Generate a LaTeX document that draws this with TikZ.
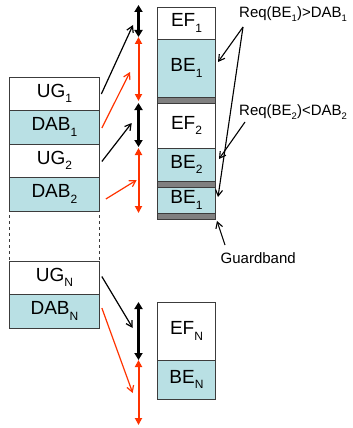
\documentclass[tikz,border=0pt]{standalone}
\usepackage{fontspec}
\setmainfont{Liberation Sans}
\usetikzlibrary{arrows.meta,calc}
\definecolor{tealbox}{RGB}{185,224,228}
\definecolor{gbgray}{RGB}{128,128,128}
\definecolor{redarr}{RGB}{255,51,0}
\definecolor{bord}{RGB}{60,60,60}
\newcommand{\bsub}[1]{\raisebox{-0.3em}{\fontsize{12}{12}\selectfont #1}}
\newcommand{\ssub}[1]{\raisebox{-0.3em}{\fontsize{9.5}{9.5}\selectfont #1}}
\begin{document}
\begin{tikzpicture}[x=1pt,y=-1pt,
  lbox/.style={draw=bord, line width=0.9pt, minimum width=90pt, inner sep=0pt, font=\fontsize{19}{19}\selectfont},
  rbox/.style={draw=bord, line width=0.9pt, minimum width=58.4pt, inner sep=0pt, font=\fontsize{19}{19}\selectfont},
  gband/.style={draw=bord, line width=0.6pt, fill=gbgray, minimum width=58.4pt, minimum height=6pt, inner sep=0pt},
  lbl/.style={anchor=west, inner sep=0pt, font=\fontsize{15}{15}\selectfont},
  callout/.style={black, line width=1.1pt, -{Straight Barb[length=6pt,width=7pt]}},
  diagb/.style={black, line width=1.2pt, -{Straight Barb[length=6pt,width=7pt]}},
  diagr/.style={redarr, line width=1.2pt, -{Straight Barb[length=6pt,width=7pt]}},
  vblack/.style={black, line width=2.6pt, {Triangle[length=7pt,width=8pt]}-{Triangle[length=7pt,width=8pt]}},
  vred/.style={redarr, line width=2pt, {Triangle[length=7pt,width=7pt]}-{Triangle[length=7pt,width=7pt]}}]
\useasboundingbox (0,0) rectangle (353,428);

% left column
\draw[bord, line width=0.8pt, dashed] (9.3,77) -- (9.3,307);
\draw[bord, line width=0.8pt, dashed] (99.5,77) -- (99.5,307);
\node[lbox, fill=white, minimum height=33pt] (UG1) at (54.4,93.5) {UG\bsub{1}};
\node[lbox, fill=tealbox, minimum height=34pt] (DAB1) at (54.4,127) {DAB\bsub{1}};
\node[lbox, fill=white, minimum height=33pt] (UG2) at (54.4,160.5) {UG\bsub{2}};
\node[lbox, fill=tealbox, minimum height=34pt] (DAB2) at (54.4,194) {DAB\bsub{2}};
\node[lbox, fill=white, minimum height=33pt] (UGN) at (54.4,277.5) {UG\bsub{N}};
\node[lbox, fill=tealbox, minimum height=34pt] (DABN) at (54.4,311) {DAB\bsub{N}};

% right column
\node[rbox, fill=white, minimum height=32pt] (EF1) at (186.5,23) {EF\bsub{1}};
\node[rbox, fill=tealbox, minimum height=58pt] (BE1) at (186.5,68) {BE\bsub{1}};
\node[gband] (GB1) at (186.5,100) {};
\node[rbox, fill=white, minimum height=45pt] (EF2) at (186.5,125.5) {EF\bsub{2}};
\node[rbox, fill=tealbox, minimum height=33pt] (BE2) at (186.5,164.5) {BE\bsub{2}};
\node[gband] (GB2) at (186.5,184) {};
\node[rbox, fill=tealbox, minimum height=26pt] (BE1b) at (186.5,200) {BE\bsub{1}};
\node[gband] (GB3) at (186.5,216.5) {};
\node[rbox, fill=white, minimum height=58pt] (EFN) at (186.5,331) {EF\bsub{N}};
\node[rbox, fill=tealbox, minimum height=39pt] (BEN) at (186.5,379.5) {BE\bsub{N}};

% vertical double arrows
\coordinate (v1) at (138.5,5);
\coordinate (v2) at (138.5,37);
\coordinate (v3) at (138.5,101);
\coordinate (v4) at (138.5,103);
\coordinate (v5) at (138.5,147);
\coordinate (v6) at (138.5,148);
\coordinate (v7) at (138.5,213);
\coordinate (v8) at (138.5,302);
\coordinate (v9) at (138.5,360);
\coordinate (v10) at (138.5,425);
\draw[vblack] (v1) -- (v2);
\draw[vred] (v2) -- (v3);
\draw[vblack] (v4) -- (v5);
\draw[vred] (v6) -- (v7);
\draw[vblack] (v8) -- (v9);
\draw[vred] (v9) -- (v10);

% diagonal arrows
\coordinate (d1) at (133,25);
\coordinate (d2) at (130,72);
\coordinate (d3) at (131.7,123);
\coordinate (d4) at (136.7,180);
\coordinate (d5) at (132.7,328);
\coordinate (d6) at (132.7,393);
\draw[diagb] ($(UG1.east)+(1.5,0.5)$) -- (d1);
\draw[diagr] ($(DAB1.east)+(2,1)$) -- (d2);
\draw[diagb] ($(UG2.east)+(2,1)$) -- (d3);
\draw[diagr] ($(DAB2.east)+(6,5)$) -- (d4);
\draw[diagb] ($(UGN.east)+(2,-1)$) -- (d5);
\draw[diagr] ($(DABN.east)+(2,-3)$) -- (d6);

% labels
\node[lbl] (R1) at (239,14) {Req(BE\ssub{1})>DAB\ssub{1}};
\node[lbl] (R2) at (239,112) {Req(BE\ssub{2})<DAB\ssub{2}};
\node[lbl] (GBL) at (220.5,258) {Guardband};
\coordinate (r1s) at (243,27);
\coordinate (r2s) at (245,122);
\coordinate (gbs) at (225,245);
\coordinate (t1) at (218,62);
\coordinate (t2) at (218,197);
\coordinate (t3) at (219,159);
\coordinate (t4) at (217,221);
\draw[callout] (r1s) -- (t1);
\draw[callout] (r1s) -- (t2);
\draw[callout] (r2s) -- (t3);
\draw[callout] (gbs) -- (t4);
\end{tikzpicture}
\end{document}
